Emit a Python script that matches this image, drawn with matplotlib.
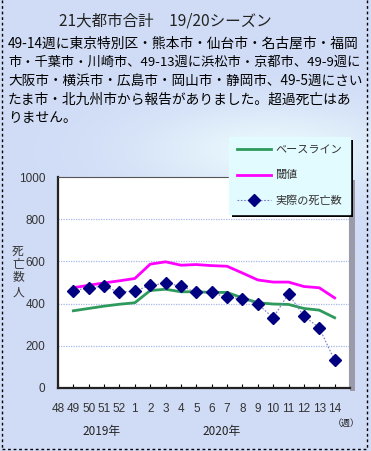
import numpy as np
import matplotlib
matplotlib.use("Agg")
import matplotlib.pyplot as plt
from matplotlib.lines import Line2D

plt.rcParams['font.family'] = ['Noto Sans CJK JP', 'DejaVu Sans']

# ---- data ----
weeks = ['48', '49', '50', '51', '52', '1', '2', '3', '4', '5', '6', '7',
         '8', '9', '10', '11', '12', '13', '14']
data_weeks = ['49', '50', '51', '52', '1', '2', '3', '4', '5', '6', '7',
              '8', '9', '10', '11', '12', '13', '14']
baseline = [366, 377, 388, 397, 404, 462, 468, 456, 456, 453, 453, 427,
            404, 398, 396, 377, 369, 333]
threshold = [475, 487, 498, 508, 519, 587, 598, 582, 585, 580, 577, 545,
             512, 502, 502, 481, 475, 427]
actual = [462, 475, 483, 453, 460, 486, 497, 483, 453, 453, 429, 423,
          398, 333, 446, 341, 285, 131]
yticks = [0, 200, 400, 600, 800, 1000]
series_names = ['ベースライン', '閾値', '実際の死亡数']
title = '21大都市合計　19/20シーズン'
para = ['49-14週に東京特別区・熊本市・仙台市・名古屋市・福岡',
        '市・千葉市・川崎市、49-13週に浜松市・京都市、49-9週に',
        '大阪市・横浜市・広島市・岡山市・静岡市、49-5週にさい',
        'たま市・北九州市から報告がありました。超過死亡はあ',
        'りません。']
para_sizes = [9.9, 9.5, 9.8, 9.9, 9.9]
ylabel_chars = ['死', '亡', '数', '人']
year_labels = ['2019年', '2020年']

W, H = 371, 451
fig = plt.figure(figsize=(W / 100, H / 100), dpi=100)

def fx(px):
    return px / W

def fy(py):
    return 1 - py / H

# ---- background ----
bg = fig.add_axes([0, 0, 1, 1], zorder=-10)
yy, xx = np.mgrid[0:H, 0:W]
base = np.array([208, 220, 246]) / 255
light = np.array([232, 247, 253]) / 255
w = np.exp(-(((xx - 270) / 130) ** 2 + ((yy - 150) / 45) ** 2))
img = base[None, None, :] * (1 - w[..., None]) + light[None, None, :] * w[..., None]
bg.imshow(img, extent=[0, W, H, 0], aspect='auto')
bg.set_xlim(0, W)
bg.set_ylim(H, 0)
bg.axis('off')

# dashed border
for xs, ys in [([2, 2], [0, 449]), ([367, 367], [0, 449]), ([2, 367], [449, 449])]:
    bg.plot(xs, ys, color='black', lw=1, ls=(0, (2, 2)))

# plot-area shadow on right
bg.add_patch(plt.Rectangle((350, 180), 5, 211, color='#9a9aa8', lw=0))

# ---- main axes ----
ax = fig.add_axes([fx(58), fy(388), 292 / W, 211 / H])
ax.set_facecolor('white')
x = [weeks.index(wk) for wk in data_weeks]

l1, = ax.plot(x, baseline, color='#2e9a5c', lw=2.0, zorder=3)
l2, = ax.plot(x, threshold, color='#ff00ff', lw=2.0, zorder=3)
l3, = ax.plot(x, actual, color='#7878c8', lw=0.8, ls=(0, (1.5, 1.5)),
              marker='D', markersize=6.5, markerfacecolor='#000080',
              markeredgecolor='#000080', zorder=4)

ax.set_xlim(0, len(weeks))
ax.set_ylim(0, 1000)
ax.set_yticks(yticks)
ax.set_yticklabels([str(v) for v in yticks], family='Liberation Sans',
                   fontsize=8.5, color='#333333')
ax.set_xticks(range(len(weeks)))
ax.set_xticklabels(weeks, family='Liberation Sans', fontsize=8.5,
                   color='#333333')
ax.tick_params(axis='x', direction='in', length=3, width=0.8, pad=11)
ax.tick_params(axis='y', length=0, pad=9)
for gy in yticks[1:-1]:
    ax.axhline(gy, color='#a8b8e8', lw=0.9, ls=(0, (1, 1)), zorder=1)

for s in ['left', 'bottom']:
    ax.spines[s].set_color('#222222')
    ax.spines[s].set_linewidth(1.6)
ax.spines['top'].set_color('#555555')
ax.spines['top'].set_linewidth(0.8)
ax.spines['right'].set_color('#9a9aa8')
ax.spines['right'].set_linewidth(1.5)

# ---- legend ----
leg = fig.legend([l1, l2, l3], series_names, loc='upper left',
                 bbox_to_anchor=(fx(229), fy(137)), fontsize=8,
                 handlelength=3.0, handletextpad=0.4, labelspacing=1.35,
                 borderpad=0.75, borderaxespad=0, fancybox=False,
                 facecolor='#e2fbff', edgecolor='#e2fbff', framealpha=1,
                 shadow={'color': 'black', 'alpha': 1, 'linewidth': 0},
                 markerscale=0.9)
for t in leg.get_texts():
    t.set_color('#333333')

# ---- texts ----
fig.text(fx(165), fy(21), title, ha='center', va='center', fontsize=11.2,
         color='#222222')
for i, (line, fs) in enumerate(zip(para, para_sizes)):
    fig.text(fx(8), fy(44 + i * 18.5), line, ha='left', va='center',
             fontsize=fs, color='black')

for ch, py in zip(ylabel_chars, [252, 264, 277, 292]):
    fig.text(fx(18), fy(py), ch, ha='center', va='center', fontsize=8.5,
             color='#333333')

fig.text(fx(102), fy(432), year_labels[0], ha='center', va='center',
         fontsize=8.5, color='#222222')
fig.text(fx(222), fy(432), year_labels[1], ha='center', va='center',
         fontsize=8.5, color='#222222')
fig.text(fx(346), fy(423), '（週）', ha='center', va='center', fontsize=6.5,
         color='#222222')

fig.savefig('out.png', dpi=100)
